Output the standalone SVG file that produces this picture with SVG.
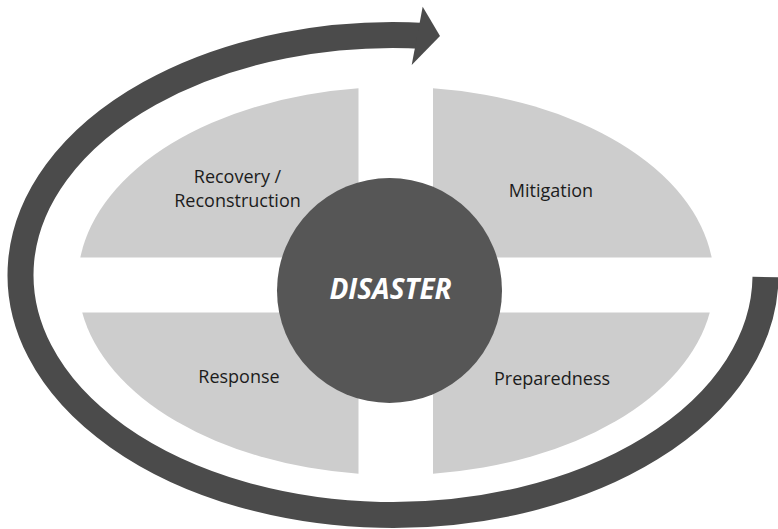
<svg xmlns="http://www.w3.org/2000/svg" width="778" height="529" viewBox="0 0 778 529">
  <style>
    .quad { fill: #cdcdcd; }
    .label { font-family: "Open Sans", "Liberation Sans", sans-serif; font-size: 18px; fill: #1c1c1c; text-anchor: middle; }
    .center { fill: #565656; }
    .centerLabel { font-family: "Open Sans", "Liberation Sans", sans-serif; font-size: 28px; font-weight: bold; font-style: italic; fill: #ffffff; text-anchor: middle; }
    .cycle { fill: none; stroke: #4b4b4b; stroke-width: 26; stroke-linecap: butt; }
    .head { fill: #4b4b4b; }
  </style>
  <rect width="778" height="529" fill="#ffffff"/>
  <g id="connectors">
    <path class="cycle" d="M765.5,277 A372.5,240 0 1 1 425,35.9"/>
    <polygon class="head" points="422.7,6.7 440,36 411.7,65"/>
  </g>
  <g id="recovery">
    <path class="quad" d="M358.5,257.5 L80.34,257.5 A318,194 0 0 1 358.5,88.35 Z"/>
    <text class="label" x="237.5" y="183">Recovery /</text>
    <text class="label" x="237.5" y="206.5">Reconstruction</text>
  </g>
  <g id="mitigation">
    <path class="quad" d="M433,257.5 L433,88.32 A318,194 0 0 1 711.66,257.5 Z"/>
    <text class="label" x="551" y="196.5">Mitigation</text>
  </g>
  <g id="preparedness">
    <path class="quad" d="M433,312.5 L709.78,312.5 A318,194 0 0 1 433,473.68 Z"/>
    <text class="label" x="552" y="385">Preparedness</text>
  </g>
  <g id="response">
    <path class="quad" d="M358.5,312.5 L358.5,473.65 A318,194 0 0 1 82.22,312.5 Z"/>
    <text class="label" x="239" y="383">Response</text>
  </g>
  <g id="disaster">
    <circle class="center" cx="389.5" cy="290.5" r="112.5"/>
    <text class="centerLabel" x="390.5" y="299">DISASTER</text>
  </g>
</svg>
